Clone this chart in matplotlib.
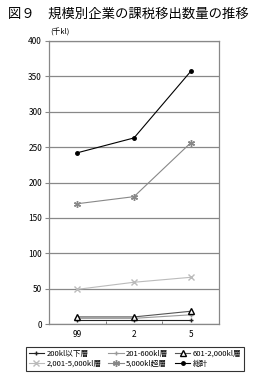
import matplotlib.pyplot as plt
import numpy as np

plt.rcParams['font.family'] = ['Noto Sans CJK JP', 'DejaVu Sans']

years = ["99", "2", "5"]
s_200 = [5, 5, 5]
s_600 = [8, 8, 13]
s_2000 = [10, 10, 18]
s_5000 = [49, 59, 66]
s_over = [170, 180, 256]
s_total = [242, 263, 357]

fig = plt.figure(figsize=(2.58, 3.77), dpi=100)
ax = fig.add_axes([49/258, 1-324/377, 170/258, 283/377])

x = np.arange(len(years)) + 0.5
ax.plot(x, s_200, color="#222222", lw=0.8, marker="+", ms=3, label="200kl以下層")
ax.plot(x, s_600, color="#999999", lw=0.8, marker="+", ms=3, label="201-600kl層")
ax.plot(x, s_2000, color="#555555", lw=0.8, marker="^", ms=4, mfc="white", mec="black", label="601-2,000kl層")
ax.plot(x, s_5000, color="#bbbbbb", lw=0.8, marker="x", ms=4, label="2,001-5,000kl層")
ax.plot(x, s_over, color="#888888", lw=0.8, marker=(6, 2, 0), ms=5, label="5,000kl超層")
ax.plot(x, s_total, color="black", lw=0.8, marker="o", ms=2.5, label="総計")

ax.set_xlim(0, 3)
ax.set_ylim(0, 400)
ax.set_yticks(range(0, 401, 50))
ax.set_xticks(x)
ax.set_xticklabels(years)
ax.set_xticks([1, 2], minor=True)
ax.tick_params(axis="x", which="major", length=0, labelsize=6, pad=4)
ax.tick_params(axis="x", which="minor", length=2, direction="in", color="#666666")
ax.tick_params(axis="y", length=3, labelsize=6, color="#888888", pad=2)
ax.yaxis.grid(True, color="#888888", lw=0.9)
ax.set_axisbelow(True)
for s in ax.spines.values():
    s.set_color("#888888")
    s.set_linewidth(0.9)

fig.text(8/258, 1-14/377, "図９　規模別企業の課税移出数量の推移", fontsize=9.6, va="center", ha="left")
fig.text(50/258, 1-33/377, "(千kl)", fontsize=5.5, va="center", ha="left")

# row-wise legend order
h, l = ax.get_legend_handles_labels()
order = [0, 3, 1, 4, 2, 5]
leg = fig.legend([h[i] for i in order], [l[i] for i in order],
                 loc="center", bbox_to_anchor=(135/258, 1-359/377), ncol=3, fontsize=5.5,
                 frameon=True, fancybox=False, edgecolor="black", handlelength=2.0,
                 columnspacing=0.9, handletextpad=0.3, labelspacing=0.25, borderpad=0.35)
leg.get_frame().set_linewidth(0.8)

plt.savefig("out.png", dpi=100)
